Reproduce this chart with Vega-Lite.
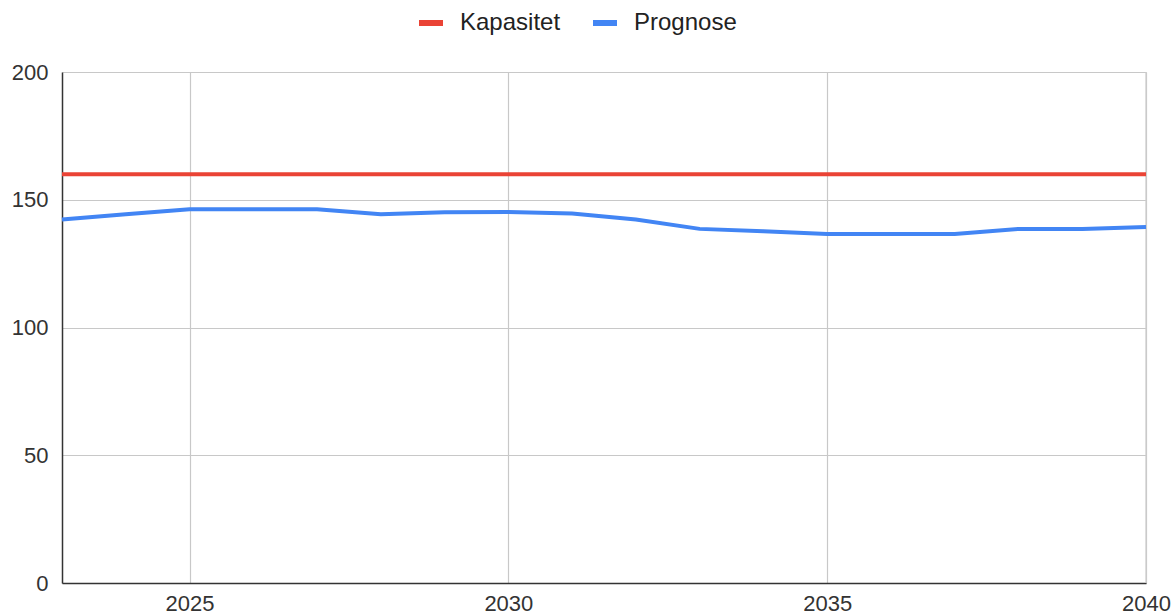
{
  "$schema": "https://vega.github.io/schema/vega-lite/v6.json",
  "width": 1084,
  "height": 511,
  "autosize": {"type": "none"},
  "padding": {"left": 62, "top": 72, "right": 28, "bottom": 32},
  "background": "white",
  "config": {
    "view": {"stroke": null},
    "font": "Liberation Sans"
  },
  "data": {
    "values": [
      {"year": 2023, "series": "Kapasitet", "value": 160},
      {"year": 2024, "series": "Kapasitet", "value": 160},
      {"year": 2025, "series": "Kapasitet", "value": 160},
      {"year": 2026, "series": "Kapasitet", "value": 160},
      {"year": 2027, "series": "Kapasitet", "value": 160},
      {"year": 2028, "series": "Kapasitet", "value": 160},
      {"year": 2029, "series": "Kapasitet", "value": 160},
      {"year": 2030, "series": "Kapasitet", "value": 160},
      {"year": 2031, "series": "Kapasitet", "value": 160},
      {"year": 2032, "series": "Kapasitet", "value": 160},
      {"year": 2033, "series": "Kapasitet", "value": 160},
      {"year": 2034, "series": "Kapasitet", "value": 160},
      {"year": 2035, "series": "Kapasitet", "value": 160},
      {"year": 2036, "series": "Kapasitet", "value": 160},
      {"year": 2037, "series": "Kapasitet", "value": 160},
      {"year": 2038, "series": "Kapasitet", "value": 160},
      {"year": 2039, "series": "Kapasitet", "value": 160},
      {"year": 2040, "series": "Kapasitet", "value": 160},
      {"year": 2023, "series": "Prognose", "value": 142.3},
      {"year": 2024, "series": "Prognose", "value": 144.3},
      {"year": 2025, "series": "Prognose", "value": 146.3},
      {"year": 2026, "series": "Prognose", "value": 146.3},
      {"year": 2027, "series": "Prognose", "value": 146.3},
      {"year": 2028, "series": "Prognose", "value": 144.3},
      {"year": 2029, "series": "Prognose", "value": 145.1},
      {"year": 2030, "series": "Prognose", "value": 145.2},
      {"year": 2031, "series": "Prognose", "value": 144.6},
      {"year": 2032, "series": "Prognose", "value": 142.3},
      {"year": 2033, "series": "Prognose", "value": 138.6},
      {"year": 2034, "series": "Prognose", "value": 137.7},
      {"year": 2035, "series": "Prognose", "value": 136.6},
      {"year": 2036, "series": "Prognose", "value": 136.6},
      {"year": 2037, "series": "Prognose", "value": 136.6},
      {"year": 2038, "series": "Prognose", "value": 138.6},
      {"year": 2039, "series": "Prognose", "value": 138.6},
      {"year": 2040, "series": "Prognose", "value": 139.3}
    ]
  },
  "layer": [
    {
      "mark": {"type": "rule", "color": "#cccccc", "strokeWidth": 1.2},
      "data": {"values": [{"v": 2040}]},
      "encoding": {"x": {"field": "v", "type": "quantitative", "scale": {"domain": [2023, 2040]}}}
    },
    {
      "mark": {"type": "line", "strokeWidth": 4, "clip": false},
      "encoding": {
        "x": {
          "field": "year",
          "type": "quantitative",
          "scale": {"domain": [2023, 2040], "nice": false, "zero": false},
          "axis": {
            "title": null,
            "values": [2025, 2030, 2035, 2040],
            "format": "d",
            "grid": true,
            "gridColor": "#c8c8c8",
            "gridWidth": 1.2,
            "domainColor": "#333333",
            "domainWidth": 1.5,
            "ticks": false,
            "labelFontSize": 22,
            "labelColor": "#333333",
            "labelPadding": 10,
            "labelFlush": false
          }
        },
        "y": {
          "field": "value",
          "type": "quantitative",
          "scale": {"domain": [0, 200], "nice": false},
          "axis": {
            "title": null,
            "values": [0, 50, 100, 150, 200],
            "grid": true,
            "gridColor": "#c8c8c8",
            "gridWidth": 1.2,
            "domainColor": "#333333",
            "domainWidth": 1.5,
            "ticks": false,
            "labelFontSize": 22,
            "labelColor": "#333333",
            "labelPadding": 14,
            "labelBaseline": "middle"
          }
        },
        "color": {
          "field": "series",
          "type": "nominal",
          "scale": {"domain": ["Kapasitet", "Prognose"], "range": ["#ea4335", "#4285f4"]},
          "legend": {
            "title": null,
            "orient": "none",
            "direction": "horizontal",
            "legendX": 354,
            "legendY": -64,
            "symbolType": "stroke",
            "symbolStrokeWidth": 6,
            "symbolSize": 576,
            "labelFontSize": 24,
            "labelColor": "#222222",
            "labelOffset": 14,
            "columnPadding": 20
          }
        }
      }
    }
  ]
}
